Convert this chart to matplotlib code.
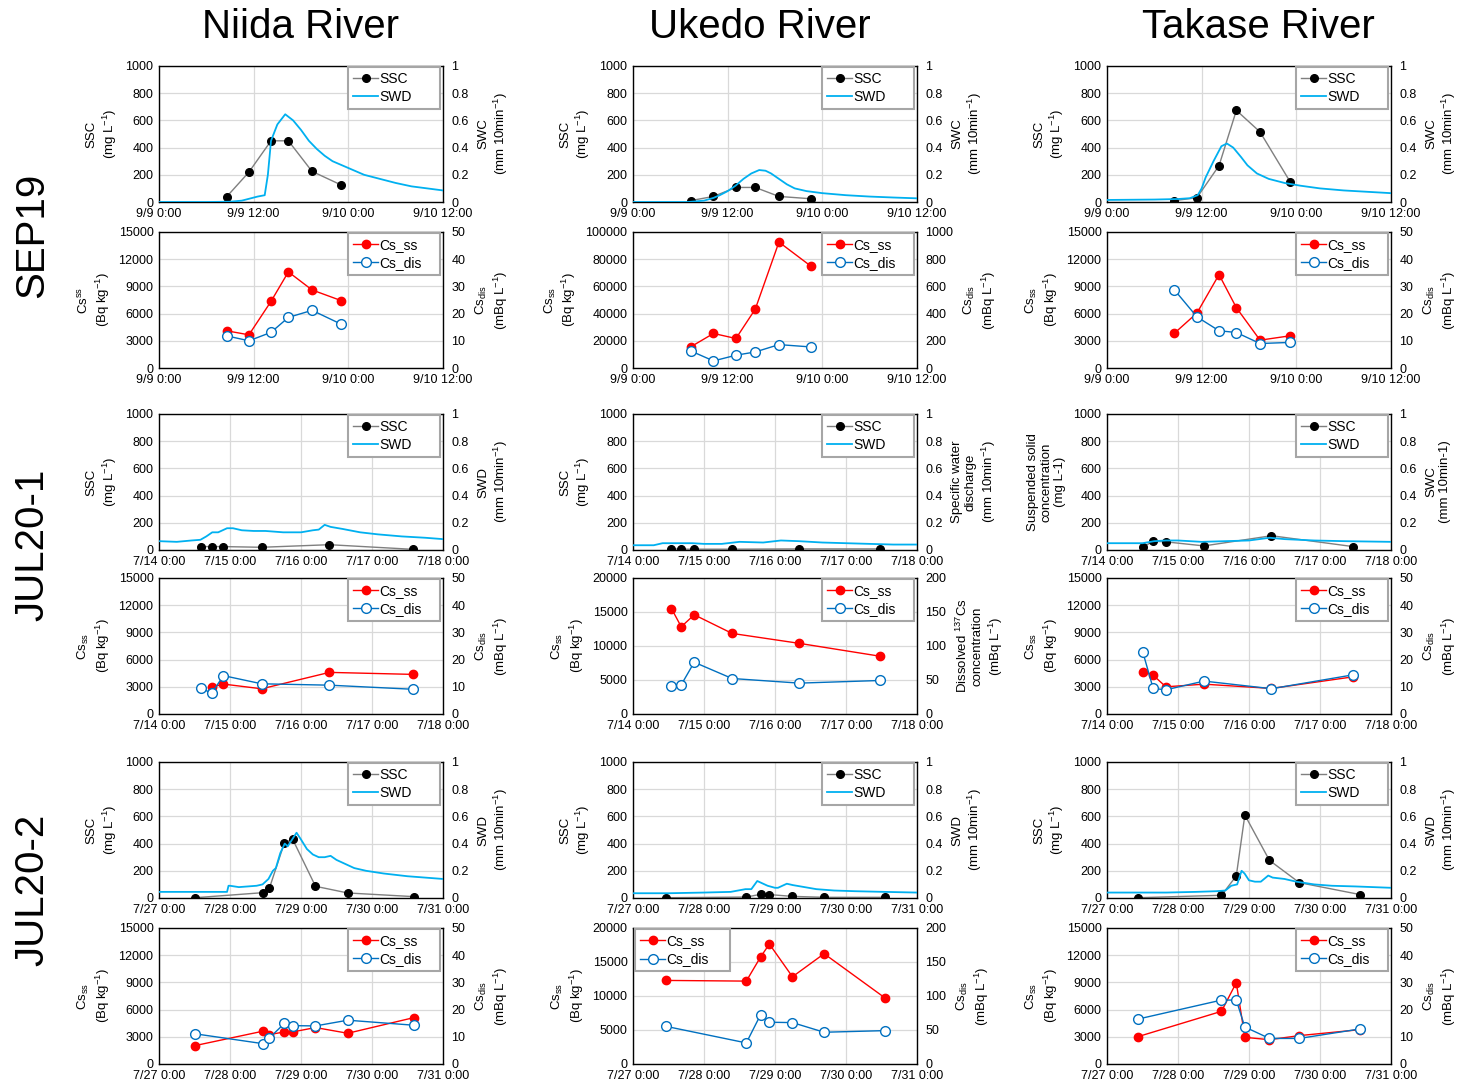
import matplotlib.pyplot as plt
from matplotlib.ticker import FuncFormatter

plt.rcParams['font.family'] = ['Liberation Sans', 'DejaVu Sans']
plt.rcParams['mathtext.fontset'] = 'custom'
plt.rcParams['mathtext.rm'] = 'Liberation Sans'
plt.rcParams['mathtext.it'] = 'Liberation Sans:italic'
plt.rcParams['font.size'] = 9

rivers = ['Niida River', 'Ukedo River', 'Takase River']
events = ['SEP19', 'JUL20-1', 'JUL20-2']

# x axis: hours from first tick
sep_ticks = ['9/9 0:00', '9/9 12:00', '9/10 0:00', '9/10 12:00']
jul1_ticks = ['7/14 0:00', '7/15 0:00', '7/16 0:00', '7/17 0:00', '7/18 0:00']
jul2_ticks = ['7/27 0:00', '7/28 0:00', '7/29 0:00', '7/30 0:00', '7/31 0:00']

# ---------------- SEP19 ----------------
niida_sep_t = [8.6, 11.4, 14.2, 16.4, 19.4, 23.1]
niida_sep_ssc = [40, 220, 450, 450, 225, 125]
niida_sep_cs_ss = [4100, 3660, 7350, 10600, 8610, 7430]
niida_sep_cs_dis = [11.8, 10.0, 13.1, 18.6, 21.2, 16.1]
niida_sep_swd_t = [0, 6, 9, 10.5, 11.5, 12.5, 13.4, 13.8, 14.2, 15, 16, 17, 18, 19, 20, 21, 22, 24, 26, 28, 30, 32, 34, 36]
niida_sep_swd = [0, 0, 0.002, 0.01, 0.025, 0.04, 0.05, 0.2, 0.45, 0.57, 0.645, 0.6, 0.53, 0.45, 0.39, 0.34, 0.3, 0.25, 0.2, 0.17, 0.14, 0.115, 0.1, 0.085]

ukedo_sep_t = [7.3, 10.2, 13.05, 15.5, 18.5, 22.5]
ukedo_sep_ssc = [10, 41, 107, 107, 41, 24]
ukedo_sep_cs_ss = [15500, 25400, 21700, 43300, 92600, 75100]
ukedo_sep_cs_dis = [126, 52, 94, 118, 172, 155]
ukedo_sep_swd_t = [0, 7, 9, 10.2, 11, 12, 13, 14, 15, 16, 16.8, 17.5, 18.5, 19.5, 20.5, 22, 24, 27, 30, 33, 36]
ukedo_sep_swd = [0, 0, 0.01, 0.03, 0.05, 0.08, 0.12, 0.17, 0.21, 0.235, 0.23, 0.21, 0.17, 0.13, 0.1, 0.08, 0.065, 0.05, 0.04, 0.033, 0.027]

takase_sep_t = [8.55, 11.4, 14.2, 16.4, 19.4, 23.2]
takase_sep_ssc = [10, 32, 267, 674, 515, 150]
takase_sep_cs_ss = [3840, 6060, 10300, 6650, 3070, 3550]
takase_sep_cs_dis = [28.7, 18.8, 13.7, 13.05, 9.0, 9.4]
takase_sep_swd_t = [0, 6, 9, 10.5, 11.5, 12, 12.5, 13.5, 14.5, 15.2, 16, 17, 17.8, 19, 20.5, 22.5, 24.5, 27, 30, 33, 36]
takase_sep_swd = [0.015, 0.018, 0.022, 0.028, 0.05, 0.1, 0.18, 0.3, 0.41, 0.43, 0.4, 0.33, 0.27, 0.21, 0.17, 0.14, 0.12, 0.1, 0.085, 0.075, 0.065]

# ---------------- JUL20-1 ----------------
niida_jul1_t = [14.2, 17.8, 21.8, 34.7, 57.6, 85.7]
niida_jul1_ssc = [25, 25, 25, 20, 39, 5]
niida_jul1_cs_ss_t = [17.8, 21.8, 34.7, 57.6, 85.7]
niida_jul1_cs_ss = [2960, 3300, 2780, 4590, 4370]
niida_jul1_cs_dis = [9.5, 7.65, 14.1, 11.1, 10.6, 9.1]
niida_jul1_swd_t = [0, 6, 11, 14, 16, 18, 20, 23, 25, 28, 32, 36, 42, 48, 52, 54, 56, 58, 62, 68, 74, 82, 90, 96]
niida_jul1_swd = [0.065, 0.06, 0.07, 0.075, 0.1, 0.13, 0.13, 0.16, 0.16, 0.145, 0.14, 0.14, 0.13, 0.13, 0.145, 0.15, 0.185, 0.17, 0.155, 0.13, 0.115, 0.1, 0.09, 0.08]

ukedo_jul1_t = [13.0, 16.3, 20.7, 33.5, 56.2, 83.6]
ukedo_jul1_ssc = [8, 6, 6, 6, 8, 8]
ukedo_jul1_cs_ss = [15510, 12830, 14590, 11850, 10390, 8490]
ukedo_jul1_cs_dis = [41.9, 42.9, 76.1, 52.2, 45.4, 49.3]
ukedo_jul1_swd_t = [0, 7, 10, 16, 20, 24, 30, 34, 36, 44, 50, 56, 64, 72, 80, 88, 96]
ukedo_jul1_swd = [0.035, 0.035, 0.05, 0.05, 0.05, 0.045, 0.045, 0.055, 0.06, 0.055, 0.07, 0.065, 0.055, 0.05, 0.045, 0.04, 0.04]

takase_jul1_t = [12.1, 15.6, 19.9, 32.8, 55.6, 83.2]
takase_jul1_ssc = [20, 65, 60, 30, 105, 25]
takase_jul1_cs_ss = [4680, 4280, 3000, 3290, 2820, 4100]
takase_jul1_cs_dis = [22.8, 9.4, 8.9, 12.1, 9.3, 14.4]
takase_jul1_swd_t = [0, 12, 16, 20, 24, 32, 40, 48, 55, 60, 70, 80, 96]
takase_jul1_swd = [0.05, 0.05, 0.065, 0.07, 0.07, 0.06, 0.065, 0.07, 0.09, 0.08, 0.07, 0.065, 0.06]

# ---------------- JUL20-2 ----------------
niida_jul2_t = [12.2, 35.0, 37.3, 42.4, 45.2, 52.9, 63.8, 86.2]
niida_jul2_ssc = [2, 39, 71, 407, 431, 86, 37, 10]
niida_jul2_cs_ss = [2030, 3610, 3240, 3540, 3540, 4020, 3390, 5120]
niida_jul2_cs_dis = [11.1, 7.5, 9.6, 14.9, 14.1, 14.0, 16.1, 14.25]
niida_jul2_swd_t = [0, 23, 23.5, 24, 27, 30, 33, 35, 37, 38.5, 39.5, 41, 42.5, 43.5, 45, 46.5, 48, 50, 52, 54, 56, 58, 60, 63, 66, 70, 76, 84, 90, 96]
niida_jul2_swd = [0.045, 0.045, 0.09, 0.09, 0.08, 0.085, 0.09, 0.1, 0.14, 0.2, 0.22, 0.33, 0.4, 0.38, 0.43, 0.48, 0.43, 0.36, 0.32, 0.3, 0.3, 0.31, 0.28, 0.25, 0.22, 0.2, 0.18, 0.16, 0.15, 0.14]

ukedo_jul2_t = [11.0, 38.3, 43.1, 46.1, 53.9, 64.6, 85.3]
ukedo_jul2_ssc = [2, 7, 27, 25, 12, 5, 5]
ukedo_jul2_cs_ss = [12290, 12190, 15720, 17640, 12830, 16220, 9680]
ukedo_jul2_cs_dis = [55.5, 31.0, 72.2, 61.4, 60.9, 46.7, 49.1]
ukedo_jul2_swd_t = [0, 12, 24, 33, 38, 40, 42, 43.5, 45.5, 48, 49, 52, 54, 58, 62, 68, 75, 85, 96]
ukedo_jul2_swd = [0.035, 0.035, 0.04, 0.045, 0.065, 0.065, 0.125, 0.11, 0.09, 0.075, 0.075, 0.105, 0.095, 0.08, 0.065, 0.055, 0.05, 0.045, 0.04]

takase_jul2_t = [10.4, 38.7, 43.7, 46.6, 54.9, 65.0, 85.6]
takase_jul2_ssc = [2, 20, 162, 610, 277, 113, 25]
takase_jul2_cs_ss = [3010, 5810, 8970, 2940, 2680, 3130, 3790]
takase_jul2_cs_dis = [16.5, 23.5, 23.5, 13.6, 9.4, 9.4, 12.9]
takase_jul2_swd_t = [0, 20, 30, 37, 40, 42, 44, 45.5, 46.5, 48, 50, 52, 54.5, 56, 60, 64, 70, 76, 84, 96]
takase_jul2_swd = [0.04, 0.04, 0.045, 0.05, 0.055, 0.09, 0.1, 0.2, 0.18, 0.13, 0.12, 0.12, 0.165, 0.15, 0.14, 0.12, 0.1, 0.09, 0.085, 0.075]

# labels
ssc_lab = 'SSC\n(mg L$\\mathregular{^{-1}}$)'
ssc_lab_long = 'Suspended solid\nconcentration\n(mg L-1)'
swc_lab = 'SWC\n(mm 10min$\\mathregular{^{-1}}$)'
swd_lab = 'SWD\n(mm 10min$\\mathregular{^{-1}}$)'
swd_lab_long = 'Specific water\ndischarge\n(mm 10min$\\mathregular{^{-1}}$)'
swc_lab_plain = 'SWC\n(mm 10min-1)'
csss_lab = 'Cs$\\mathregular{_{ss}}$\n(Bq kg$\\mathregular{^{-1}}$)'
csss_lab_sup = 'Cs$\\mathregular{^{ss}}$\n(Bq kg$\\mathregular{^{-1}}$)'
csdis_lab = 'Cs$\\mathregular{_{dis}}$\n(mBq L$\\mathregular{^{-1}}$)'
csdis_lab_long = 'Dissolved $\\mathregular{^{137}}$Cs\nconcentration\n(mBq L$\\mathregular{^{-1}}$)'

W, H = 1459, 1087
fig = plt.figure(figsize=(W / 100, H / 100), dpi=100)

col_left = [159, 633, 1107]
col_w = 284
top_row = [66, 414, 762]
cs_row = [232, 578, 928]
ph = 136

grid_c = '#D9D9D9'
fmt = FuncFormatter(lambda v, p: f'{v:g}')


def make_ax(x, y, xt):
    ax = fig.add_axes([x / W, 1 - (y + ph) / H, col_w / W, ph / H])
    ax.set_xlim(0, 24 * (len(xt) - 1) if len(xt) == 5 else 36)
    step = 24 if len(xt) == 5 else 12
    ax.set_xticks([i * step for i in range(len(xt))])
    ax.set_xticklabels(xt)
    ax.grid(color=grid_c, lw=0.9)
    ax.set_axisbelow(True)
    ax.tick_params(length=0, pad=4, labelsize=9)
    for s in ax.spines.values():
        s.set_color('black')
        s.set_linewidth(1.0)
    ax2 = ax.twinx()
    ax2.tick_params(length=0, pad=6, labelsize=9)
    for s in ax2.spines.values():
        s.set_visible(False)
    return ax, ax2


def legend(ax, handles, loc='upper right'):
    w = 92 / col_w
    if loc == 'upper right':
        box = (0.99 - w, 0, w, 0.995)
    else:
        box = (0.008, 0, w + 0.01, 0.99)
    lg = ax.legend(handles=handles, loc=loc, bbox_to_anchor=box, mode='expand',
                   fontsize=10, fancybox=False, edgecolor='#A6A6A6', framealpha=1,
                   borderaxespad=0, handlelength=1.8, handletextpad=0.1,
                   borderpad=0.35, labelspacing=0.3)
    lg.get_frame().set_linewidth(1.5)


def top_panel(col, row, xt, t, ssc, swd_t, swd, llab, rlab):
    ax, ax2 = make_ax(col_left[col], top_row[row], xt)
    h1, = ax.plot(t, ssc, '-o', color='#7F7F7F', lw=1, mfc='black', mec='black', ms=5.5, label='SSC')
    h2, = ax2.plot(swd_t, swd, color='#00B0F0', lw=1.3, label='SWD')
    ax.set_ylim(0, 1000)
    ax.set_yticks(range(0, 1001, 200))
    ax2.set_ylim(0, 1)
    ax2.set_yticks([0, 0.2, 0.4, 0.6, 0.8, 1])
    ax2.yaxis.set_major_formatter(fmt)
    ax.set_ylabel(llab, fontsize=9.5, labelpad=5)
    ax2.set_ylabel(rlab, fontsize=9.5, labelpad=6)
    legend(ax2, [h1, h2])


def cs_panel(col, row, xt, t_ss, cs_ss, t_dis, cs_dis, lmax, rmax, step, llab, rlab, loc='upper right'):
    ax, ax2 = make_ax(col_left[col], cs_row[row], xt)
    h1, = ax.plot(t_ss, cs_ss, '-o', color='#FF0000', lw=1, ms=6, label='Cs_ss')
    h2, = ax2.plot(t_dis, cs_dis, '-o', color='#0070C0', lw=1, ms=7, mfc='white', mew=1, label='Cs_dis')
    ax.set_ylim(0, lmax)
    ax.set_yticks(range(0, lmax + 1, step))
    ax2.set_ylim(0, rmax)
    ax2.set_yticks([rmax * i / (lmax // step) for i in range(lmax // step + 1)])
    ax2.yaxis.set_major_formatter(fmt)
    ax.set_ylabel(llab, fontsize=9.5, labelpad=5)
    ax2.set_ylabel(rlab, fontsize=9.5, labelpad=6)
    legend(ax2, [h1, h2], loc)


# SEP19
top_panel(0, 0, sep_ticks, niida_sep_t, niida_sep_ssc, niida_sep_swd_t, niida_sep_swd, ssc_lab, swc_lab)
top_panel(1, 0, sep_ticks, ukedo_sep_t, ukedo_sep_ssc, ukedo_sep_swd_t, ukedo_sep_swd, ssc_lab, swc_lab)
top_panel(2, 0, sep_ticks, takase_sep_t, takase_sep_ssc, takase_sep_swd_t, takase_sep_swd, ssc_lab, swc_lab)
cs_panel(0, 0, sep_ticks, niida_sep_t, niida_sep_cs_ss, niida_sep_t, niida_sep_cs_dis, 15000, 50, 3000, csss_lab_sup, csdis_lab)
cs_panel(1, 0, sep_ticks, ukedo_sep_t, ukedo_sep_cs_ss, ukedo_sep_t, ukedo_sep_cs_dis, 100000, 1000, 20000, csss_lab, csdis_lab)
cs_panel(2, 0, sep_ticks, takase_sep_t, takase_sep_cs_ss, takase_sep_t, takase_sep_cs_dis, 15000, 50, 3000, csss_lab, csdis_lab)

# JUL20-1
top_panel(0, 1, jul1_ticks, niida_jul1_t, niida_jul1_ssc, niida_jul1_swd_t, niida_jul1_swd, ssc_lab, swd_lab)
top_panel(1, 1, jul1_ticks, ukedo_jul1_t, ukedo_jul1_ssc, ukedo_jul1_swd_t, ukedo_jul1_swd, ssc_lab, swd_lab_long)
top_panel(2, 1, jul1_ticks, takase_jul1_t, takase_jul1_ssc, takase_jul1_swd_t, takase_jul1_swd, ssc_lab_long, swc_lab_plain)
cs_panel(0, 1, jul1_ticks, niida_jul1_cs_ss_t, niida_jul1_cs_ss, niida_jul1_t, niida_jul1_cs_dis, 15000, 50, 3000, csss_lab, csdis_lab)
cs_panel(1, 1, jul1_ticks, ukedo_jul1_t, ukedo_jul1_cs_ss, ukedo_jul1_t, ukedo_jul1_cs_dis, 20000, 200, 5000, csss_lab, csdis_lab_long)
cs_panel(2, 1, jul1_ticks, takase_jul1_t, takase_jul1_cs_ss, takase_jul1_t, takase_jul1_cs_dis, 15000, 50, 3000, csss_lab, csdis_lab)

# JUL20-2
top_panel(0, 2, jul2_ticks, niida_jul2_t, niida_jul2_ssc, niida_jul2_swd_t, niida_jul2_swd, ssc_lab, swd_lab)
top_panel(1, 2, jul2_ticks, ukedo_jul2_t, ukedo_jul2_ssc, ukedo_jul2_swd_t, ukedo_jul2_swd, ssc_lab, swd_lab)
top_panel(2, 2, jul2_ticks, takase_jul2_t, takase_jul2_ssc, takase_jul2_swd_t, takase_jul2_swd, ssc_lab, swd_lab)
cs_panel(0, 2, jul2_ticks, niida_jul2_t, niida_jul2_cs_ss, niida_jul2_t, niida_jul2_cs_dis, 15000, 50, 3000, csss_lab, csdis_lab)
cs_panel(1, 2, jul2_ticks, ukedo_jul2_t, ukedo_jul2_cs_ss, ukedo_jul2_t, ukedo_jul2_cs_dis, 20000, 200, 5000, csss_lab, csdis_lab, loc='upper left')
cs_panel(2, 2, jul2_ticks, takase_jul2_t, takase_jul2_cs_ss, takase_jul2_t, takase_jul2_cs_dis, 15000, 50, 3000, csss_lab, csdis_lab)

# column titles and row labels
for name, xc in zip(rivers, [300, 760, 1258]):
    fig.text(xc / W, 1 - 27 / H, name, ha='center', va='center', fontsize=29)
for name, yc in zip(events, [235, 545, 890]):
    fig.text(32 / W, 1 - yc / H, name, ha='center', va='center', rotation=90, fontsize=29)

fig.savefig('out.png', dpi=100)
